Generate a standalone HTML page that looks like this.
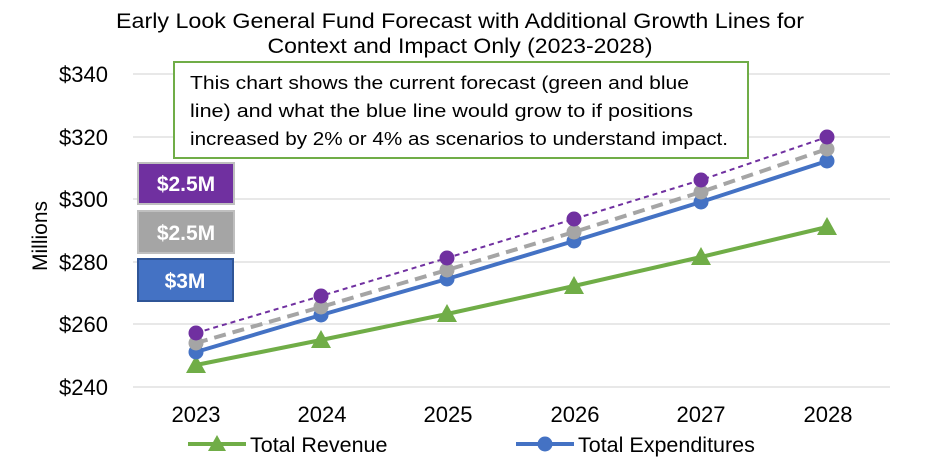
<!DOCTYPE html>
<html><head><style>body{margin:0;background:#fff}svg{display:block}</style></head><body>
<svg width="935" height="468" xmlns="http://www.w3.org/2000/svg" font-family="Liberation Sans, Arial, sans-serif">
<rect width="935" height="468" fill="#fff"/>
<text x="460" y="28" font-size="21" text-anchor="middle" fill="#000" textLength="688" lengthAdjust="spacingAndGlyphs">Early Look General Fund Forecast with Additional Growth Lines for</text>
<text x="460" y="53" font-size="21" text-anchor="middle" fill="#000" textLength="385" lengthAdjust="spacingAndGlyphs">Context and Impact Only (2023-2028)</text>
<g stroke="#d9d9d9" stroke-width="1.3">
<line x1="133" y1="74" x2="890" y2="74"/><line x1="133" y1="137" x2="890" y2="137"/>
<line x1="133" y1="199" x2="890" y2="199"/><line x1="133" y1="262" x2="890" y2="262"/>
<line x1="133" y1="324" x2="890" y2="324"/><line x1="133" y1="387" x2="890" y2="387"/>
</g>
<g font-size="22" text-anchor="end" fill="#000">
<text x="108" y="82">$340</text><text x="108" y="145">$320</text><text x="108" y="207">$300</text>
<text x="108" y="270">$280</text><text x="108" y="332">$260</text><text x="108" y="395">$240</text>
</g>
<text transform="translate(47,236) rotate(-90)" font-size="21" text-anchor="middle">Millions</text>
<g font-size="22" text-anchor="middle">
<text x="196" y="422">2023</text><text x="322" y="422">2024</text><text x="448" y="422">2025</text>
<text x="575" y="422">2026</text><text x="701" y="422">2027</text><text x="828" y="422">2028</text>
</g>
<polyline points="196,365 321,340 447,314 574,286 701,257 827,227" fill="none" stroke="#70ad47" stroke-width="4"/>
<polyline points="196,352 321,315 447,279 574,241 701,202 827,161" fill="none" stroke="#4472c4" stroke-width="4"/>
<polyline points="196,343 321,307 447,270 574,232 701,192 827,149" fill="none" stroke="#a5a5a5" stroke-width="4" stroke-dasharray="12,7"/>
<polyline points="196,333 321,296 447,258 574,219 701,180 827,137" fill="none" stroke="#7030a0" stroke-width="2" stroke-dasharray="5,4"/>
<g fill="#70ad47">
<polygon points="196,355 186,373 206,373"/><polygon points="321,330 311,348 331,348"/><polygon points="447,304 437,322 457,322"/>
<polygon points="574,276 564,294 584,294"/><polygon points="701,247 691,265 711,265"/><polygon points="827,217 817,235 837,235"/>
</g>
<g fill="#4472c4"><circle cx="196" cy="352" r="7.5"/><circle cx="321" cy="315" r="7.5"/><circle cx="447" cy="279" r="7.5"/><circle cx="574" cy="241" r="7.5"/><circle cx="701" cy="202" r="7.5"/><circle cx="827" cy="161" r="7.5"/></g>
<g fill="#a5a5a5"><circle cx="196" cy="343" r="7.5"/><circle cx="321" cy="307" r="7.5"/><circle cx="447" cy="270" r="7.5"/><circle cx="574" cy="232" r="7.5"/><circle cx="701" cy="192" r="7.5"/><circle cx="827" cy="149" r="7.5"/></g>
<g fill="#7030a0"><circle cx="196" cy="333" r="7.5"/><circle cx="321" cy="296" r="7.5"/><circle cx="447" cy="258" r="7.5"/><circle cx="574" cy="219" r="7.5"/><circle cx="701" cy="180" r="7.5"/><circle cx="827" cy="137" r="7.5"/></g>
<rect x="174" y="62" width="574" height="96" fill="#fff" stroke="#70ad47" stroke-width="2"/>
<g font-size="18" fill="#000">
<text x="190" y="89" textLength="499" lengthAdjust="spacingAndGlyphs">This chart shows the current forecast (green and blue</text>
<text x="190" y="117" textLength="503" lengthAdjust="spacingAndGlyphs">line) and what the blue line would grow to if positions</text>
<text x="190" y="145" textLength="538" lengthAdjust="spacingAndGlyphs">increased by 2% or 4% as scenarios to understand impact.</text>
</g>
<rect x="138" y="163" width="96" height="41" fill="#7030a0" stroke="#bfbfbf" stroke-width="2"/>
<rect x="138" y="211" width="96" height="42" fill="#a5a5a5" stroke="#bfbfbf" stroke-width="2"/>
<rect x="138" y="259" width="95" height="42" fill="#4472c4" stroke="#2f5597" stroke-width="2"/>
<g font-size="21" font-weight="bold" fill="#fff" text-anchor="middle">
<text x="186" y="191">$2.5M</text><text x="186" y="240">$2.5M</text><text x="185" y="288">$3M</text>
</g>
<line x1="188" y1="444" x2="246" y2="444" stroke="#70ad47" stroke-width="4"/>
<polygon points="217,435 208,451 226,451" fill="#70ad47"/>
<text x="250" y="452" font-size="21.5">Total Revenue</text>
<line x1="516" y1="444" x2="574" y2="444" stroke="#4472c4" stroke-width="4"/>
<circle cx="545" cy="444" r="7.5" fill="#4472c4"/>
<text x="578" y="452" font-size="21.5">Total Expenditures</text>
</svg>
</body></html>
